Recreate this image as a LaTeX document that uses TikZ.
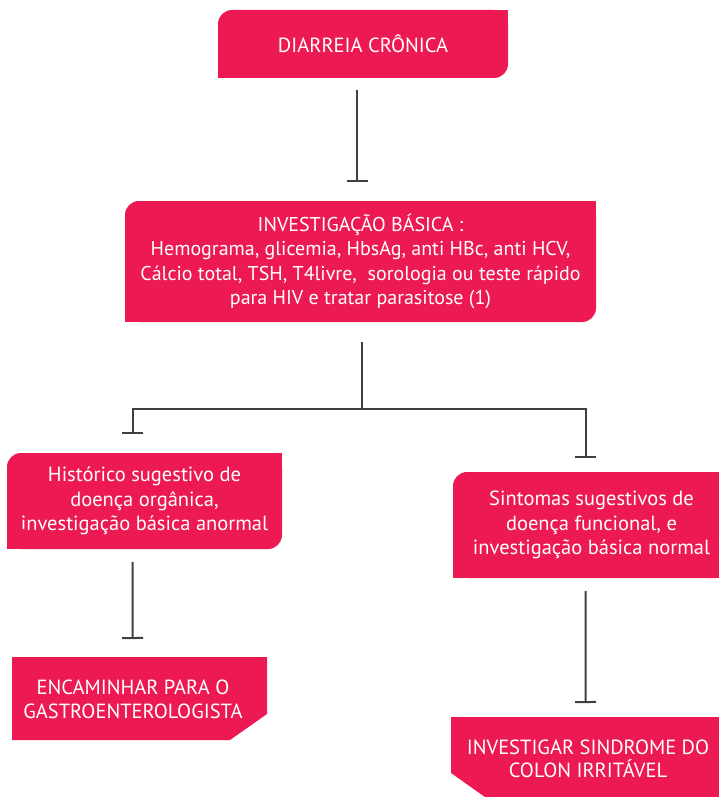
\documentclass[tikz,border=0pt]{standalone}
\usepackage{fontspec}
\setmainfont{PT Sans}
\usetikzlibrary{arrows.meta,calc}
\definecolor{crim}{RGB}{237,25,82}
\definecolor{linegray}{RGB}{64,64,64}
\begin{document}
\begin{tikzpicture}[x=1pt,y=-1pt,
  box/.style={fill=crim, text=white, rounded corners=14pt, align=center,
    inner sep=0pt, font=\fontsize{20.5}{24.5}\selectfont},
  flatbox/.style={text=white, align=center, inner sep=0pt,
    font=\fontsize{20.5}{23.5}\selectfont},
  conn/.style={draw=linegray, line width=2pt},
  tee/.style={-{Bar[width=21pt,line width=2pt]}}]
\useasboundingbox (0,0) rectangle (719,797);

% rounded boxes: top-left and bottom-right corners rounded
\node[box, minimum width=290pt, minimum height=68pt] (dc) at (363,44) {DIARREIA CRÔNICA};
\fill[crim] (dc.north east) rectangle ++(-20,20);
\fill[crim] (dc.south west) rectangle ++(20,-20);

\node[box, minimum width=471pt, minimum height=121pt,
  font=\fontsize{20}{24.5}\selectfont] (inv) at (360.5,261.5)
  {INVESTIGAÇÃO BÁSICA :\\
   Hemograma, glicemia, HbsAg, anti HBc, anti HCV,\\
   Cálcio total, TSH, T4livre,\ \ sorologia ou teste rápido\\
   para HIV e tratar parasitose (1)};
\fill[crim] (inv.north east) rectangle ++(-20,20);
\fill[crim] (inv.south west) rectangle ++(20,-20);

\node[box, minimum width=275pt, minimum height=96pt] (org) at (144.5,501)
  {Histórico sugestivo de\\ doença orgânica,\\ investigação básica anormal};
\fill[crim] (org.north east) rectangle ++(-20,20);
\fill[crim] (org.south west) rectangle ++(20,-20);

\node[box, minimum width=277pt, minimum height=106pt] (fun) at (591.5,525)
  {Sintomas sugestivos de\\ doença funcional, e\\ investigação básica normal};
\fill[crim] (fun.north east) rectangle ++(-20,20);
\fill[crim] (fun.south west) rectangle ++(20,-20);
\fill[crim] (fun.south east) rectangle ++(-20,-20);

% boxes with a cut corner
\fill[crim] (12,657) -- (267,657) -- (267,714) -- (230,740) -- (12,740) -- cycle;
\node[flatbox] (gas) at (133,699.5) {ENCAMINHAR PARA O\\ GASTROENTEROLOGISTA};

\fill[crim] (451,717) -- (719,717) -- (719,797) -- (485,797) -- (451,773) -- cycle;
\node[flatbox] (col) at (588,759) {INVESTIGAR SINDROME DO\\ COLON IRRITÁVEL};

% connectors ending in a bar
\coordinate (jn) at (361.5,409);
\draw[conn,tee] ($(dc.south)+(-6,12)$) -- (357,182);
\draw[conn] ($(inv.south)+(1,20)$) -- (jn);
\draw[conn,tee] (jn) -| (132.7,434);
\draw[conn,tee] (jn) -| (585.7,458);
\draw[conn,tee] ($(org.south west)+(125.7,13)$) -- (132.7,639);
\draw[conn,tee] ($(fun.south west)+(132.7,13)$) -- (585.7,703);
\end{tikzpicture}
\end{document}
